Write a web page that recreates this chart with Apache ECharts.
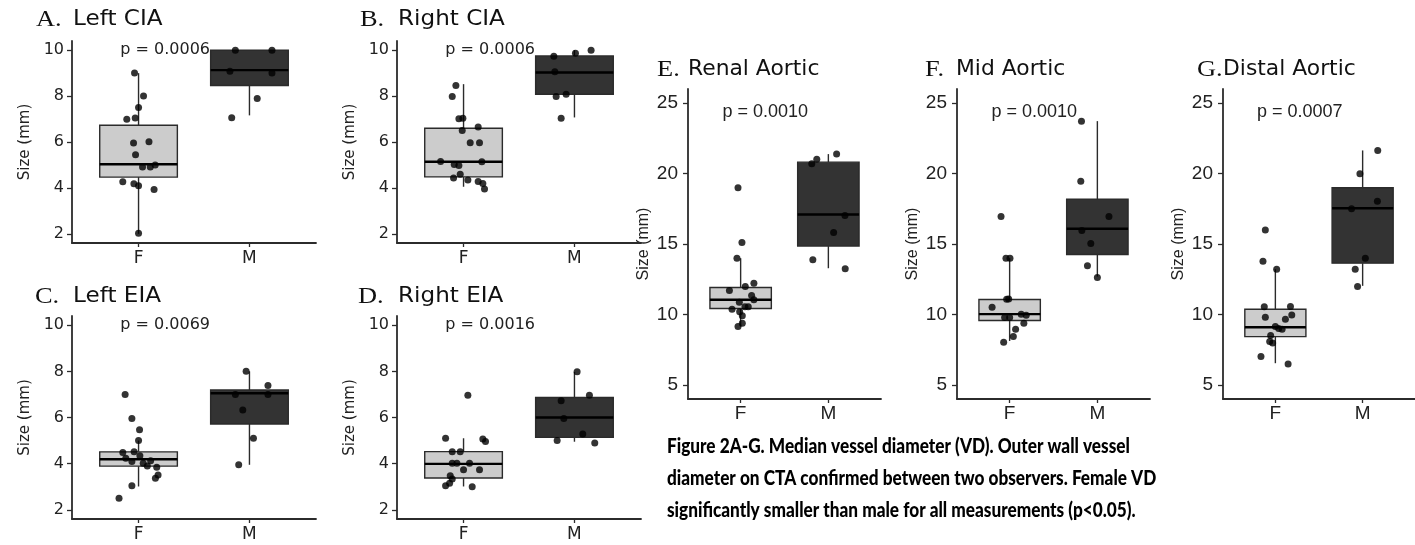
<!DOCTYPE html>
<html>
<head>
<meta charset="utf-8">
<script src="https://cdn.jsdelivr.net/npm/echarts@6/dist/echarts.min.js"></script>
<style>html,body{margin:0;padding:0;background:#fff}#chart{width:1415px;height:545px}</style>
</head>
<body>
<div id="chart"></div>
<script>
// ---------- data ----------
const categories = ['F', 'M'];
const panelLetters = ['A.', 'B.', 'C.', 'D.', 'E.', 'F.', 'G.'];
const panelNames = ['Left CIA', 'Right CIA', 'Left EIA', 'Right EIA', 'Renal Aortic', 'Mid Aortic', 'Distal Aortic'];
const pLabels = ['p = 0.0006', 'p = 0.0006', 'p = 0.0069', 'p = 0.0016', 'p = 0.0010', 'p = 0.0010', 'p = 0.0007'];
const ticksIliac = [2, 4, 6, 8, 10];
const ticksAortic = [5, 10, 15, 20, 25];
const captionLines = [
  'Figure 2A-G. Median vessel diameter (VD). Outer wall vessel',
  'diameter on CTA confirmed between two observers. Female VD',
  'significantly smaller than male for all measurements (p<0.05).'
];

// box stats: [lower whisker, Q1, median, Q3, upper whisker]
const boxA_F = [2.0, 4.47, 5.03, 6.73, 9.0];
const boxA_M = [7.16, 8.46, 9.13, 10.0, 10.0];
const boxB_F = [4.05, 4.48, 5.14, 6.6, 8.52];
const boxB_M = [7.07, 8.08, 9.03, 9.75, 10.0];
const boxC_F = [3.01, 3.89, 4.19, 4.51, 5.0];
const boxC_M = [3.95, 5.72, 7.05, 7.19, 8.0];
const boxD_F = [3.01, 3.38, 3.99, 4.52, 5.1];
const boxD_M = [4.95, 5.14, 6.0, 6.87, 7.98];
const boxE_F = [9.14, 10.42, 11.04, 11.91, 13.99];
const boxE_M = [13.28, 14.85, 17.09, 20.81, 21.38];
const boxF_F = [8.12, 9.57, 10.02, 11.06, 13.99];
const boxF_M = [12.69, 14.25, 16.08, 18.18, 23.72];
const boxG_F = [6.54, 8.43, 9.09, 10.37, 13.21];
const boxG_M = [12.03, 13.64, 17.54, 18.99, 21.64];

const ptsA_F = [9.01, 8.0, 7.5, 6.99, 7.05, 5.96, 6.01, 5.45, 4.91, 4.91, 5.0, 4.27, 4.18, 4.09, 3.93, 2.03];
const jitA_F = [-0.036, 0.045, 0.0, -0.106, -0.03, -0.045, 0.094, -0.027, 0.036, 0.106, 0.15, -0.142, -0.042, 0.0, 0.14, 0.0];
const ptsA_M = [10.0, 10.0, 9.08, 9.01, 7.89, 7.06];
const jitA_M = [-0.127, 0.203, -0.176, 0.203, 0.07, -0.16];

const ptsB_F = [8.46, 7.98, 7.01, 7.04, 6.5, 6.65, 5.97, 5.97, 5.15, 5.02, 4.98, 5.14, 4.59, 4.43, 4.34, 4.28, 4.19, 3.95];
const jitB_F = [-0.069, -0.102, -0.042, -0.006, -0.012, 0.132, 0.06, 0.144, -0.207, -0.084, -0.042, 0.165, -0.03, -0.09, 0.039, 0.132, 0.174, 0.189];
const ptsB_M = [9.74, 9.87, 10.0, 9.06, 7.98, 8.08, 7.04];
const jitB_M = [-0.186, 0.009, 0.15, -0.177, -0.165, -0.075, -0.12];

const ptsC_F = [7.0, 5.96, 5.47, 5.0, 4.48, 4.52, 4.23, 4.09, 4.34, 4.02, 3.9, 4.13, 3.84, 3.51, 3.37, 3.04, 2.5];
const jitC_F = [-0.121, -0.06, 0.009, 0.0, -0.142, -0.04, -0.115, -0.06, 0.012, 0.042, 0.079, 0.109, 0.164, 0.176, 0.152, -0.06, -0.176];
const ptsC_M = [8.01, 7.39, 7.0, 7.0, 6.32, 5.1, 3.95];
const jitC_M = [-0.03, 0.167, -0.127, 0.167, -0.06, 0.036, -0.097];

const ptsD_F = [6.96, 5.1, 5.07, 4.96, 4.52, 4.52, 4.02, 4.02, 4.02, 3.73, 3.73, 3.47, 3.33, 3.15, 3.04, 3.0];
const jitD_F = [0.039, -0.162, 0.174, 0.198, -0.102, -0.03, -0.102, -0.06, 0.054, 0.0, 0.144, -0.12, -0.102, -0.126, -0.162, 0.078];
const ptsD_M = [7.98, 6.96, 6.73, 5.96, 5.28, 5.0, 4.9];
const jitD_M = [0.024, 0.135, -0.12, -0.096, 0.075, -0.156, 0.183];

const ptsE_F = [18.99, 15.11, 13.99, 12.22, 11.98, 11.7, 11.34, 11.04, 10.87, 10.37, 10.54, 10.54, 10.2, 9.9, 9.38, 9.14];
const jitE_F = [-0.03, 0.015, -0.042, 0.151, 0.053, -0.128, 0.125, 0.151, -0.015, -0.098, 0.049, 0.087, -0.011, 0.019, 0.019, -0.03];
const ptsE_M = [21.38, 21.02, 20.69, 17.02, 15.82, 13.88, 13.24];
const jitE_M = [0.094, -0.132, -0.189, 0.189, 0.06, -0.177, 0.192];

const ptsF_F = [16.95, 13.99, 13.99, 11.08, 11.1, 10.51, 9.78, 9.78, 10.02, 9.95, 9.38, 8.95, 8.43, 8.03];
const jitF_F = [-0.098, -0.042, 0.004, -0.034, -0.011, -0.2, -0.057, 0.0, 0.132, 0.189, 0.162, 0.068, 0.042, -0.068];
const ptsF_M = [23.72, 19.46, 16.95, 15.96, 15.04, 13.45, 12.62];
const jitF_M = [-0.181, -0.189, 0.132, -0.177, -0.075, -0.113, 0.0];

const ptsG_F = [16.0, 13.78, 13.21, 10.54, 10.56, 9.8, 9.97, 9.66, 9.14, 9.0, 8.95, 8.5, 8.08, 7.98, 7.01, 6.49];
const jitG_F = [-0.115, -0.142, 0.015, -0.127, 0.173, -0.115, 0.188, 0.115, 0.0, 0.038, 0.077, -0.054, -0.065, -0.031, -0.165, 0.146];
const ptsG_M = [21.64, 19.98, 18.04, 17.5, 13.99, 13.21, 11.98];
const jitG_M = [0.173, -0.031, 0.169, -0.127, 0.031, -0.085, -0.058];

// ---------- layout ----------
const boxesF = [boxA_F, boxB_F, boxC_F, boxD_F, boxE_F, boxF_F, boxG_F];
const boxesM = [boxA_M, boxB_M, boxC_M, boxD_M, boxE_M, boxF_M, boxG_M];
const pointsF = [ptsA_F, ptsB_F, ptsC_F, ptsD_F, ptsE_F, ptsF_F, ptsG_F];
const jittersF = [jitA_F, jitB_F, jitC_F, jitD_F, jitE_F, jitF_F, jitG_F];
const pointsM = [ptsA_M, ptsB_M, ptsC_M, ptsD_M, ptsE_M, ptsF_M, ptsG_M];
const jittersM = [jitA_M, jitB_M, jitC_M, jitD_M, jitE_M, jitF_M, jitG_M];

const grids = [
  {left: 72, top: 41, width: 244, height: 202},
  {left: 397, top: 41, width: 244, height: 202},
  {left: 72, top: 316, width: 244, height: 203},
  {left: 397, top: 316, width: 244, height: 203},
  {left: 688, top: 89, width: 193, height: 310},
  {left: 957, top: 89, width: 193, height: 310},
  {left: 1223, top: 89, width: 192, height: 310}
];
const titlePos = [
  {lx: 36, nx: 73, y: 20}, {lx: 360, nx: 398, y: 20},
  {lx: 35, nx: 73, y: 297}, {lx: 358, nx: 398, y: 297},
  {lx: 657, nx: 688, y: 70}, {lx: 925, nx: 956, y: 70}, {lx: 1197, nx: 1223, y: 70}
];

const boxFill = ['#cccccc', '#333333'];
const lineCol = '#2b2b2b';
const textCol = '#222';

const grid = [], xAxis = [], yAxis = [], series = [], graphic = [];

for (let i = 0; i < 7; i++) {
  const iliac = i < 4;
  const fam = iliac ? 'DejaVu Sans' : 'Liberation Sans';
  grid.push(Object.assign({containLabel: false}, grids[i]));
  xAxis.push({
    gridIndex: i, type: 'value', min: 0.4, max: 2.6,
    axisLine: {show: true, lineStyle: {color: lineCol, width: 1.8}},
    axisTick: {show: true, customValues: [1, 2], length: 4, lineStyle: {color: lineCol, width: 1.3}},
    axisLabel: {customValues: [1, 2], formatter: v => categories[Math.round(v) - 1],
      color: textCol, fontFamily: fam, fontSize: iliac ? 17 : 19, margin: iliac ? 7 : 5},
    splitLine: {show: false}
  });
  const ticks = iliac ? ticksIliac : ticksAortic;
  yAxis.push({
    gridIndex: i, type: 'value',
    min: iliac ? 1.6 : 4, max: iliac ? 10.4 : 26,
    name: 'Size (mm)', nameLocation: 'middle', nameGap: iliac ? 39 : 36,
    nameTextStyle: {color: textCol, fontFamily: fam, fontSize: iliac ? 15 : 16},
    axisLine: {show: true, lineStyle: {color: lineCol, width: 1.8}},
    axisTick: {show: true, customValues: ticks, length: 5, lineStyle: {color: lineCol, width: 1.3}},
    axisLabel: {customValues: ticks, color: textCol, fontFamily: fam, fontSize: iliac ? 16 : 19, margin: iliac ? 8 : 10},
    splitLine: {show: false}
  });
  // boxes
  series.push({
    type: 'custom', xAxisIndex: i, yAxisIndex: i, z: 1,
    data: [[1].concat(boxesF[i]), [2].concat(boxesM[i])],
    renderItem: function (params, api) {
      const x = api.value(0);
      const lo = api.value(1), q1 = api.value(2), med = api.value(3), q3 = api.value(4), hi = api.value(5);
      const half = 0.35;
      const tl = api.coord([x - half, q3]);
      const br = api.coord([x + half, q1]);
      const a = api.coord([x, lo]), b = api.coord([x, q1]), c = api.coord([x, q3]), d = api.coord([x, hi]);
      const ml = api.coord([x - half, med]), mr = api.coord([x + half, med]);
      return {type: 'group', children: [
        {type: 'line', shape: {x1: a[0], y1: a[1], x2: b[0], y2: b[1]}, style: {stroke: lineCol, lineWidth: 1.4}},
        {type: 'line', shape: {x1: c[0], y1: c[1], x2: d[0], y2: d[1]}, style: {stroke: lineCol, lineWidth: 1.4}},
        {type: 'rect', shape: {x: tl[0], y: tl[1], width: br[0] - tl[0], height: br[1] - tl[1]},
          style: {fill: boxFill[x - 1], stroke: lineCol, lineWidth: 1.4}},
        {type: 'line', shape: {x1: ml[0], y1: ml[1], x2: mr[0], y2: mr[1]}, style: {stroke: '#000', lineWidth: 2.4}}
      ]};
    }
  });
  // jittered points
  series.push({
    type: 'scatter', xAxisIndex: i, yAxisIndex: i, z: 3, symbolSize: 7,
    itemStyle: {color: '#000'},
    data: pointsF[i].map((v, k) => [1 + jittersF[i][k], v])
  });
  series.push({
    type: 'scatter', xAxisIndex: i, yAxisIndex: i, z: 3, symbolSize: 7,
    itemStyle: {color: '#000'},
    data: pointsM[i].map((v, k) => [2 + jittersM[i][k], v])
  });
  // p-value label
  const pIdx = i;
  series.push({
    type: 'custom', xAxisIndex: i, yAxisIndex: i, z: 4,
    data: [[iliac ? 1.24 : 1.28, iliac ? 10 : 24.4]],
    renderItem: function (params, api) {
      const p = api.coord([api.value(0), api.value(1)]);
      return {type: 'text', x: p[0], y: p[1], style: {text: pLabels[pIdx], fill: textCol,
        font: (iliac ? '16px ' : '18px ') + fam, align: 'center', verticalAlign: 'middle'}};
    }
  });
  // title
  graphic.push({type: 'text', x: titlePos[i].lx, y: titlePos[i].y, scaleX: 1.1,
    style: {text: panelLetters[i], font: '24px "Liberation Serif"', fill: '#111', verticalAlign: 'middle'}});
  graphic.push({type: 'text', x: titlePos[i].nx, y: titlePos[i].y, scaleX: iliac ? 1.1 : 1.04,
    style: {text: panelNames[i], font: '21px "DejaVu Sans"', fill: '#111', verticalAlign: 'middle'}});
}

captionLines.forEach((t, k) => {
  graphic.push({type: 'text', x: 667, y: 447 + k * 31.7, scaleX: 0.86,
    style: {text: t, font: '900 20px Lato, sans-serif', fill: '#000', verticalAlign: 'middle'}});
});

const chart = echarts.init(document.getElementById('chart'), null, {renderer: 'canvas'});
chart.setOption({
  animation: false,
  backgroundColor: '#fff',
  grid, xAxis, yAxis, series, graphic
});
</script>
</body>
</html>
